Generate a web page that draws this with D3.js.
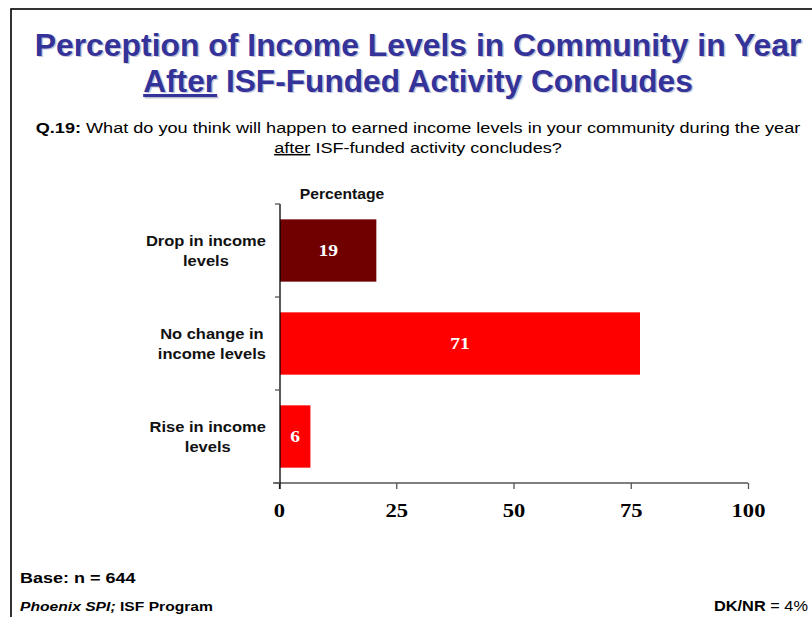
<!DOCTYPE html>
<html>
<head>
<meta charset="utf-8">
<script src="https://cdn.jsdelivr.net/npm/d3@7"></script>
<style>
  html, body { margin: 0; padding: 0; background: #fff; }
  svg { display: block; }
</style>
</head>
<body>
<script>
// ---- data ----
const categories = ["Drop in income levels", "No change in income levels", "Rise in income levels"];
const categoryLines = [["Drop in income", "levels"], ["No change in", "income levels"], ["Rise in income", "levels"]];
const values = [19, 71, 6];
const barColors = ["#700000", "#ff0000", "#ff0000"];
const tickValues = [0, 25, 50, 75, 100];
const titleLine1 = "Perception of Income Levels in Community in Year";
const titleLine2a = "After";
const titleLine2b = " ISF-Funded Activity Concludes";
const questionLabel = "Q.19:";
const questionLine1 = " What do you think will happen to earned income levels in your community during the year";
const questionLine2a = "after";
const questionLine2b = " ISF-funded activity concludes?";
const axisTitle = "Percentage";
const baseText = "Base: n = 644";
const sourceItalic = "Phoenix SPI;";
const sourceRest = " ISF Program";
const dkLabel = "DK/NR";
const dkValue = " = 4%";

const W = 812, H = 617;
const SANS = "Arial, 'Liberation Sans', sans-serif";
const SERIF = "'Times New Roman', 'Liberation Serif', serif";
const svg = d3.select("body").append("svg").attr("width", W).attr("height", H);

// horizontal stretch of a text about its anchor point (the reference is horizontally stretched)
function stretch(sel, sx) {
  const x = +sel.attr("x"), y = +sel.attr("y");
  sel.attr("transform", `translate(${x},${y}) scale(${sx},1) translate(${-x},${-y})`);
  return sel;
}
function fitWidth(sel, target) {
  const w = sel.node().getComputedTextLength();
  return stretch(sel, target / w);
}

// frame
svg.append("rect").attr("x", 11).attr("y", 9).attr("width", 830).attr("height", 640)
  .attr("fill", "none").attr("stroke", "#000").attr("stroke-width", 1.6);

// title with light shadow
const titleColor = "#333399";
function titleText(y, width, build) {
  const sh = svg.append("text").attr("x", 419.5).attr("y", y + 1.5).attr("text-anchor", "middle")
    .attr("font-family", SANS).attr("font-weight", "bold")
    .attr("font-size", 31).attr("fill", "#c8c8d8");
  build(sh);
  fitWidth(sh, width);
  const t = svg.append("text").attr("x", 418).attr("y", y).attr("text-anchor", "middle")
    .attr("font-family", SANS).attr("font-weight", "bold")
    .attr("font-size", 31).attr("fill", titleColor);
  build(t);
  fitWidth(t, width);
}
titleText(56, 767, (t) => t.text(titleLine1));
titleText(92, 550, (t) => {
  t.append("tspan").attr("text-decoration", "underline").text(titleLine2a);
  t.append("tspan").text(titleLine2b);
});

// question
const q = svg.append("text").attr("x", 418).attr("y", 133).attr("text-anchor", "middle")
  .attr("font-family", SANS).attr("font-size", 15.5).attr("fill", "#000");
q.append("tspan").attr("font-weight", "bold").text(questionLabel);
q.append("tspan").text(questionLine1);
const qScale = 765 / q.node().getComputedTextLength();
stretch(q, qScale);
const q2 = svg.append("text").attr("x", 418).attr("y", 153).attr("text-anchor", "middle")
  .attr("font-family", SANS).attr("font-size", 15.5).attr("fill", "#000");
q2.append("tspan").attr("text-decoration", "underline").text(questionLine2a);
q2.append("tspan").text(questionLine2b);
stretch(q2, qScale);

// ---- chart ----
const plot = { left: 280, right: 748, top: 204, bottom: 483 };
// axis scale (as labelled) and bar scale (the original's bar lengths run to ~92 at the axis end)
const xAxisScale = d3.scaleLinear().domain([0, 100]).range([plot.left - 1, plot.right]);
const xBar = d3.scaleLinear().domain([0, 92.3]).range([plot.left, plot.right]);
const y = d3.scaleBand().domain(categories).range([plot.top, plot.bottom]).paddingInner(0.33).paddingOuter(0.165);
const yBands = d3.scaleBand().domain(categories).range([plot.top, plot.bottom]);

// bars
svg.append("g").selectAll("rect").data(values).join("rect")
  .attr("x", xBar(0))
  .attr("y", (d, i) => y(categories[i]))
  .attr("width", d => xBar(d) - xBar(0))
  .attr("height", y.bandwidth())
  .attr("fill", (d, i) => barColors[i]);

// value labels
svg.append("g").selectAll("text").data(values).join("text")
  .attr("x", d => (xBar(0) + xBar(d)) / 2)
  .attr("y", (d, i) => y(categories[i]) + y.bandwidth() / 2 + 6)
  .attr("text-anchor", "middle")
  .attr("font-family", SERIF)
  .attr("font-weight", "bold").attr("font-size", 17).attr("fill", "#fff")
  .text(d => d)
  .each(function () { stretch(d3.select(this), 1.15); });

// x axis
const xAxis = svg.append("g").attr("transform", `translate(0,${plot.bottom})`)
  .call(d3.axisBottom(xAxisScale).tickValues(tickValues).tickSize(6).tickPadding(16).tickSizeOuter(0));
xAxis.select(".domain").remove();
xAxis.append("line").attr("x1", plot.left - 7).attr("x2", plot.right).attr("y1", 0).attr("y2", 0)
  .attr("stroke", "#555").attr("stroke-width", 1.5);
xAxis.selectAll(".tick line").attr("stroke", "#555").attr("stroke-width", 1.3);
xAxis.selectAll(".tick text").attr("font-family", SERIF)
  .attr("font-weight", "bold").attr("font-size", 18.5).attr("fill", "#000")
  .attr("x", 0).attr("y", 34.5).attr("dy", 0)
  .each(function () { stretch(d3.select(this), 1.22); });

// y axis
const yAxis = svg.append("g").attr("transform", `translate(${plot.left},0)`);
yAxis.append("line").attr("x1", 0).attr("x2", 0).attr("y1", plot.top).attr("y2", plot.bottom + 6)
  .attr("stroke", "#000").attr("stroke-width", 1.3);
const yTicks = categories.map(c => yBands(c)).concat([plot.bottom]);
yAxis.selectAll("line.tk").data(yTicks).join("line").attr("class", "tk")
  .attr("x1", -5).attr("x2", 0).attr("y1", d => d).attr("y2", d => d)
  .attr("stroke", "#555").attr("stroke-width", 1.3);

// category labels (lines centered, block right aligned)
const labelRight = 266;
const labelSx = 1.1;
categories.forEach((c, i) => {
  const cy = yBands(c) + yBands.bandwidth() / 2;
  const g = svg.append("g");
  const lines = categoryLines[i];
  const texts = lines.map((ln, j) => g.append("text")
    .attr("y", cy - 4.5 + j * 20.5)
    .attr("text-anchor", "middle")
    .attr("font-family", SANS)
    .attr("font-weight", "bold").attr("font-size", 15).attr("fill", "#111")
    .text(ln));
  const maxW = d3.max(texts, t => t.node().getComputedTextLength()) * labelSx;
  texts.forEach(t => { t.attr("x", labelRight - maxW / 2); stretch(t, labelSx); });
});

// axis title
stretch(svg.append("text").attr("x", 342).attr("y", 199).attr("text-anchor", "middle")
  .attr("font-family", SANS).attr("font-weight", "bold")
  .attr("font-size", 14.5).attr("fill", "#111").text(axisTitle), 1.08);

// footer
stretch(svg.append("text").attr("x", 20).attr("y", 583)
  .attr("font-family", SANS).attr("font-weight", "bold")
  .attr("font-size", 15).attr("fill", "#000").text(baseText), 1.2);
const src = svg.append("text").attr("x", 20).attr("y", 611)
  .attr("font-family", SANS).attr("font-weight", "bold")
  .attr("font-size", 13.5).attr("fill", "#000");
src.append("tspan").attr("font-style", "italic").text(sourceItalic);
src.append("tspan").text(sourceRest);
fitWidth(src, 193);
const dk = svg.append("text").attr("x", 714).attr("y", 611)
  .attr("font-family", SANS)
  .attr("font-size", 14.5).attr("fill", "#000");
dk.append("tspan").attr("font-weight", "bold").text(dkLabel);
dk.append("tspan").text(dkValue);
fitWidth(dk, 94);
</script>
</body>
</html>
